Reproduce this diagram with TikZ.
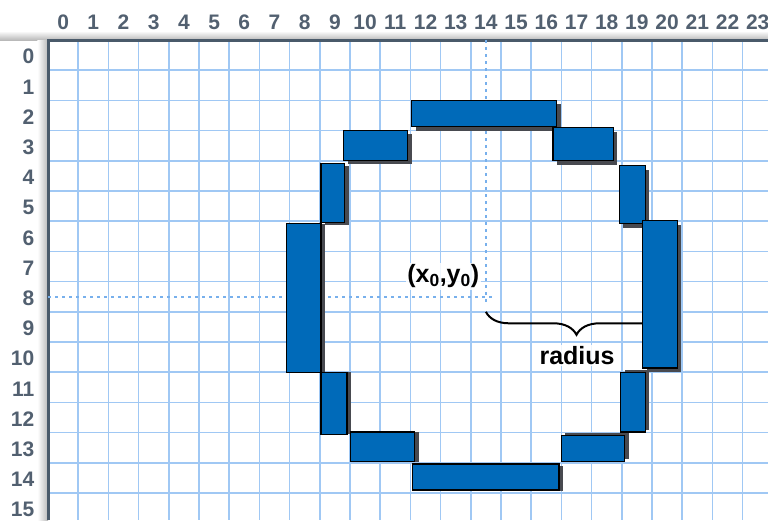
\documentclass[tikz,border=0pt]{standalone}
\usepackage{fontspec}
\setmainfont{Liberation Sans}
\usetikzlibrary{decorations.pathreplacing}
\definecolor{gridlines}{RGB}{160,200,244}
\definecolor{framecol}{RGB}{74,90,106}
\definecolor{labelcol}{RGB}{82,96,112}
\definecolor{pixelblue}{RGB}{0,106,185}
\definecolor{shadowcol}{RGB}{72,74,80}
\definecolor{centercol}{RGB}{120,176,236}
\tikzset{
    pixbar/.style={fill=pixelblue, draw=black, line width=1.1pt},
    pixshadow/.style={fill=shadowcol},
    axislabel/.style={text=labelcol, font=\fontsize{21}{22}\selectfont\bfseries, inner sep=0pt},
    bigtext/.style={font=\fontsize{25}{27}\selectfont\bfseries, fill=white, fill opacity=0.85, text opacity=1, inner sep=1.5pt}
}

\begin{document}
\begin{tikzpicture}[x=30.2pt, y=-30.2pt]
        \useasboundingbox (-1.5894,-1.3245) rectangle (23.841,15.894);
        \coordinate (C) at (14.5,8.5);
        % soft edge round the sheet
        \shade[top color=white, bottom color=gray!55] (-1.5894,-0.3) rectangle (23.841,0);
        \shade[left color=white, right color=gray!55] (-0.35,0) rectangle (0,15.894);
        \fill[white] (0,0) rectangle (23.841,15.894);
        % grid
        \foreach \x in {1,...,23}
        {
            \draw[gridlines, line width=1.6pt] (\x,0) -- (\x,15.894);
        }
        \foreach \y in {1,...,15}
        {
            \draw[gridlines, line width=1.6pt] (0,\y) -- (23.841,\y);
        }
        \draw[framecol, line width=3pt] (0,15.894) -- (0,0) -- (23.841,0);
        \foreach \x in {0,...,23}
        {
            \node[axislabel] (col\x) at (\x+0.5,-0.6) {\x};
        }
        \foreach \y in {0,...,15}
        {
            \node[axislabel, anchor=east] (row\y) at (-0.45,\y+0.55) {\y};
        }
        % ~~~~~~~~~~~~~~~~~
        % centre cross
        \draw[centercol, line width=2.4pt, dash pattern=on 3pt off 4pt] (14.5,0) -- (14.5,8.75);
        \draw[centercol, line width=2.4pt, dash pattern=on 3pt off 4pt] (0,8.5) -- (14.75,8.5);
        \coordinate (R0) at (14.5,9.0);
        \coordinate (R1) at (20.5,9.0);
        \draw[line width=2pt, decorate, decoration={brace, mirror, amplitude=23pt}] (R0) -- (R1);
        % ~~~~~~~~~~~~~~~~~
        % pixels of the circle
        \foreach \xa/\ya/\xb/\yb/\dy in {
            12.04/1.99/16.84/2.87/0.14, 9.78/3.00/11.91/4.00/0.1,
            16.72/2.91/18.71/4.00/0.14, 9.04/4.10/9.83/6.05/0.08,
            18.91/4.17/19.77/6.09/0.14, 7.91/6.09/9.04/11.00/0.0,
            19.70/5.99/20.83/10.86/0.14, 9.04/11.00/9.90/13.05/0.0,
            18.97/11.00/19.77/12.98/-0.08, 10.03/12.98/12.15/13.97/0.0,
            16.99/13.11/19.10/13.97/-0.1, 12.08/14.04/16.92/14.90/0.05}
        {
            \fill[pixshadow] (\xa+0.14,\ya+\dy) rectangle (\xb+0.14,\yb+\dy);
        }
        \foreach \xa/\ya/\xb/\yb in {
            12.04/1.99/16.84/2.87, 9.78/3.00/11.91/4.00,
            16.72/2.91/18.71/4.00, 9.04/4.10/9.83/6.05,
            18.91/4.17/19.77/6.09, 7.91/6.09/9.04/11.00,
            19.70/5.99/20.83/10.86, 9.04/11.00/9.90/13.05,
            18.97/11.00/19.77/12.98, 10.03/12.98/12.15/13.97,
            16.99/13.11/19.10/13.97, 12.08/14.04/16.92/14.90}
        {
            \draw[pixbar] (\xa,\ya) rectangle (\xb,\yb);
        }
        % ~~~~~~~~~~~~~~~~~
        \node[bigtext, anchor=south east] (centre) at ([xshift=-5pt, yshift=7pt]C) {(x\textsubscript{0},y\textsubscript{0})};
        \node[bigtext] (radius) at (17.52,10.45) {radius};
    \end{tikzpicture}
\end{document}
